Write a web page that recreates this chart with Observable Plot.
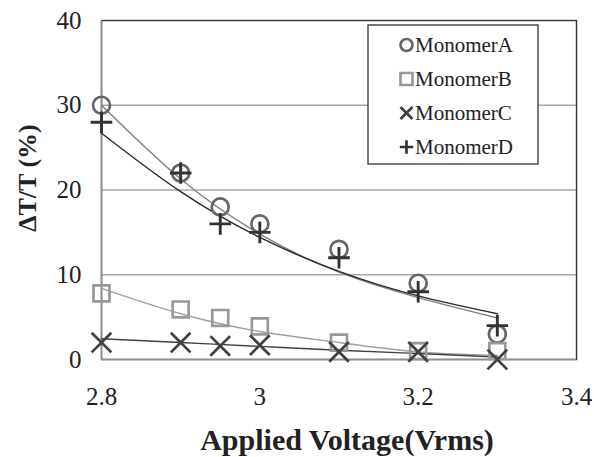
<!DOCTYPE html>
<html><head><meta charset="utf-8">
<script src="https://cdn.jsdelivr.net/npm/d3@7"></script>
<script src="https://cdn.jsdelivr.net/npm/@observablehq/plot@0.6"></script>
<style>
body{margin:0;background:#fff}
#chart{width:594px;height:457px}
#chart svg text{font-family:'Liberation Serif','Times New Roman',serif !important}
</style>
</head><body><div id="chart"></div>
<script>
// measured data
const voltage = [2.8, 2.9, 2.95, 3.0, 3.1, 3.2, 3.3];
const monomerA = [30, 22, 18, 16, 13, 9, 3];
const monomerB = [7.8, 5.9, 4.9, 3.9, 2.0, 1.0, 1.0];
const monomerC = [2.0, 2.0, 1.6, 1.7, 0.9, 0.9, 0];
const monomerD = [28, 22, 16, 15, 12, 8, 4];
// trend lines
const trendVoltage = [2.8, 2.9, 3.0, 3.1, 3.2, 3.3];
const trendA = [30, 21.3, 14.8, 10.3, 7.3, 4.9];
const trendB = [8.4, 5.4, 3.3, 2.0, 0.9, 0.5];
const trendC = [2.45, 2.0, 1.55, 1.1, 0.7, 0.3];
const trendD = [26.7, 19.8, 14.4, 10.4, 7.5, 5.4];
const seriesNames = ["MonomerA", "MonomerB", "MonomerC", "MonomerD"];
const xTicks = [2.8, 3.0, 3.2, 3.4];
const yTicks = [0, 10, 20, 30, 40];
const xTitle = "Applied Voltage(Vrms)";
const yTitle = "\u0394T/T (%)";

const pts = ys => voltage.map((v, i) => ({x: v, y: ys[i]}));
const tpts = ys => trendVoltage.map((v, i) => ({x: v, y: ys[i]}));

const serif = "'Liberation Serif', 'Times New Roman', serif";
const styles = [
  {sym: "circle", r: 8.5, stroke: "#666", sw: 2.7, line: "#7f7f7f", data: monomerA, trend: trendA, lsym: d3.symbolCircle, lsize: Math.PI * 36},
  {sym: "square", r: 9, stroke: "#999", sw: 2.7, line: "#a0a0a0", data: monomerB, trend: trendB, lsym: d3.symbolSquare, lsize: 144},
  {sym: "times", r: 9, stroke: "#404040", sw: 2.7, line: "#404040", data: monomerC, trend: trendC, lsym: d3.symbolTimes, lsize: 96},
  {sym: "plus", r: 7, stroke: "#333", sw: 2.9, line: "#2b2b2b", data: monomerD, trend: trendD, lsym: d3.symbolPlus, lsize: 60}
];

const marks = [
  Plot.ruleY(yTicks.filter(t => t > 0 && t < 40), {stroke: "#a8a8a8", strokeWidth: 1.3}),
  Plot.frame({stroke: "#333", strokeWidth: 1.4}),
  Plot.ruleX([xTicks[0]], {stroke: "#8f8f8f", strokeWidth: 1.6}),
  Plot.ruleY([0], {stroke: "#8f8f8f", strokeWidth: 1.6})
];
for (const s of styles) {
  marks.push(Plot.line(tpts(s.trend), {x: "x", y: "y", stroke: s.line, strokeWidth: 1.4, curve: "natural"}));
}
for (const s of styles) {
  marks.push(Plot.dot(pts(s.data), {x: "x", y: "y", symbol: s.sym, r: s.r, stroke: s.stroke, strokeWidth: s.sw, fill: "none"}));
}
marks.push(Plot.text([xTitle], {frameAnchor: "bottom", textAnchor: "middle", lineAnchor: "middle", dx: 8, dy: 81, fontWeight: "bold", fontSize: 30, fill: "#222"}));
marks.push(Plot.text([yTitle], {frameAnchor: "left", textAnchor: "middle", lineAnchor: "middle", dx: -74, dy: -12, rotate: -90, fontWeight: "bold", fontSize: 26, fill: "#222"}));

const plot = Plot.plot({
  width: 594, height: 457,
  marginLeft: 101, marginRight: 18, marginTop: 20, marginBottom: 98,
  style: {fontFamily: serif, fontSize: "25px", color: "#222", background: "white", overflow: "visible"},
  x: {domain: [2.8, 3.4], ticks: xTicks, tickFormat: d => String(+d.toFixed(1)), tickSize: 0, tickPadding: 28, label: null},
  y: {domain: [0, 40], ticks: yTicks, tickSize: 0, tickPadding: 20, label: null},
  marks
});

// legend box
const svg = d3.select(plot);
const lg = svg.append("g");
lg.append("rect").attr("x", 368).attr("y", 25).attr("width", 170).attr("height", 139)
  .attr("fill", "white").attr("stroke", "#333").attr("stroke-width", 1.3);
styles.forEach((s, i) => {
  const cy = 45 + i * 34;
  lg.append("path").attr("d", d3.symbol(s.lsym, s.lsize)())
    .attr("transform", `translate(406.5,${cy})`)
    .attr("fill", "none").attr("stroke", s.stroke).attr("stroke-width", 2.7);
  lg.append("text").attr("x", 415).attr("y", cy).attr("dy", "0.35em")
    .attr("text-anchor", "start")
    .attr("font-family", serif).attr("font-size", 21).attr("fill", "#222").text(seriesNames[i]);
});
document.getElementById("chart").appendChild(plot);
</script>
</body></html>
